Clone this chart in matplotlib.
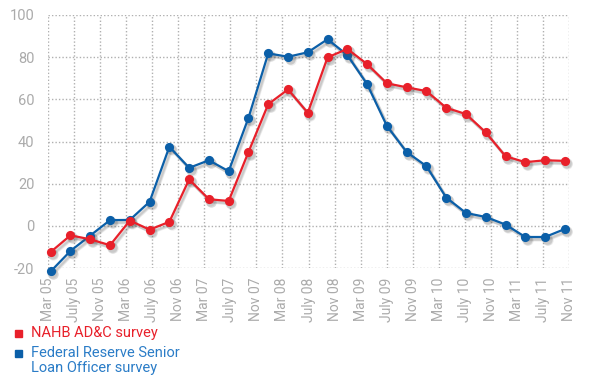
import matplotlib
matplotlib.use("Agg")
import matplotlib.pyplot as plt
import matplotlib.transforms as mtransforms
import numpy as np

tick_labels = ["Mar 05", "July 05", "Nov 05", "Mar 06", "July 06", "Nov 06", "Mar 07",
               "July 07", "Nov 07", "Mar 08", "July 08", "Nov 08", "Mar 09", "July 09",
               "Nov 09", "Mar 10", "July 10", "Nov 10", "Mar 11", "July 11", "Nov 11"]

nahb = [-12.4, -4.5, -6.4, -9.2, 2.5, -1.8, 1.9, 22.0, 12.6, 11.8, 35.0, 57.7, 64.7,
        53.6, 79.9, 83.9, 76.7, 67.6, 65.7, 63.9, 56.0, 53.0, 44.3, 33.0, 30.2, 31.1, 30.8]
fed = [-21.6, -11.9, -4.6, 2.7, 2.8, 11.4, 37.5, 27.5, 31.1, 25.9, 51.2, 81.8, 80.2,
       82.3, 88.5, 81.0, 67.2, 47.4, 35.0, 28.3, 13.4, 6.1, 4.2, 0.6, -5.3, -5.3, -1.5]

RED = "#e8202a"
BLUE = "#0b5fa8"
GRAY = "#ababab"
FONT = ["Roboto", "DejaVu Sans"]

# positions in months after Mar 05 (quarterly survey points)
n = len(nahb)
xpos = 0.37 + np.arange(n) * 3.04
tick_pos = np.arange(len(tick_labels)) * 4

fig = plt.figure(figsize=(6, 3.88), dpi=100)
ax = fig.add_axes([48.3 / 600, 1 - 268 / 388, (568.7 - 48.3) / 600, (268 - 15) / 388])
ax.set_xlim(tick_pos[0], tick_pos[-1])
ax.set_ylim(-20, 100)
ax.set_yticks(np.arange(-20, 101, 20))
ax.set_xticks(tick_pos)
ax.set_xticklabels(tick_labels, rotation=90, fontsize=10, color=GRAY, family=FONT)
ax.set_yticklabels([str(v) for v in range(-20, 101, 20)], fontsize=10.5, color=GRAY, family=FONT)
ax.tick_params(axis="both", length=0)
ax.tick_params(axis="y", pad=10)
ax.tick_params(axis="x", pad=7)
for s in ax.spines.values():
    s.set_visible(False)
ax.grid(True, color="#b0b0b0", linestyle=(0, (1, 1.5)), linewidth=1.0)
ax.set_axisbelow(True)

for k, (d, c, z) in enumerate([(fed, BLUE, 3), (nahb, RED, 5)]):
    for off, a in [((2.5, -3.0), 0.10), ((2.0, -2.5), 0.12), ((1.5, -2.0), 0.12)]:
        tr = mtransforms.offset_copy(ax.transData, fig=fig, x=off[0], y=off[1], units="dots")
        ax.plot(xpos, d, color="#555555", alpha=a, linewidth=2.2, marker="o",
                markersize=7.5, markeredgewidth=0, transform=tr, zorder=z - 1,
                clip_on=False)
    ax.plot(xpos, d, color=c, linewidth=1.6, marker="o", markersize=6.6,
            markeredgewidth=0, zorder=z, clip_on=False)

# legend
fig.patches.append(plt.Rectangle((15 / 600, 1 - 337 / 388), 7 / 600, 7 / 388,
                                 transform=fig.transFigure, color=RED, figure=fig))
fig.patches.append(plt.Rectangle((15 / 600, 1 - 357 / 388), 7 / 600, 7 / 388,
                                 transform=fig.transFigure, color=BLUE, figure=fig))
fig.text(31 / 600, 1 - 333.5 / 388, "NAHB AD&C survey", color=RED, fontsize=10.5,
         family=FONT, va="center", ha="left")
fig.text(31 / 600, 1 - 346 / 388, "Federal Reserve Senior\nLoan Officer survey",
         color="#2a7cc7", fontsize=10.5, family=FONT, va="top", ha="left",
         linespacing=1.05)

fig.savefig("out.png", dpi=100)
